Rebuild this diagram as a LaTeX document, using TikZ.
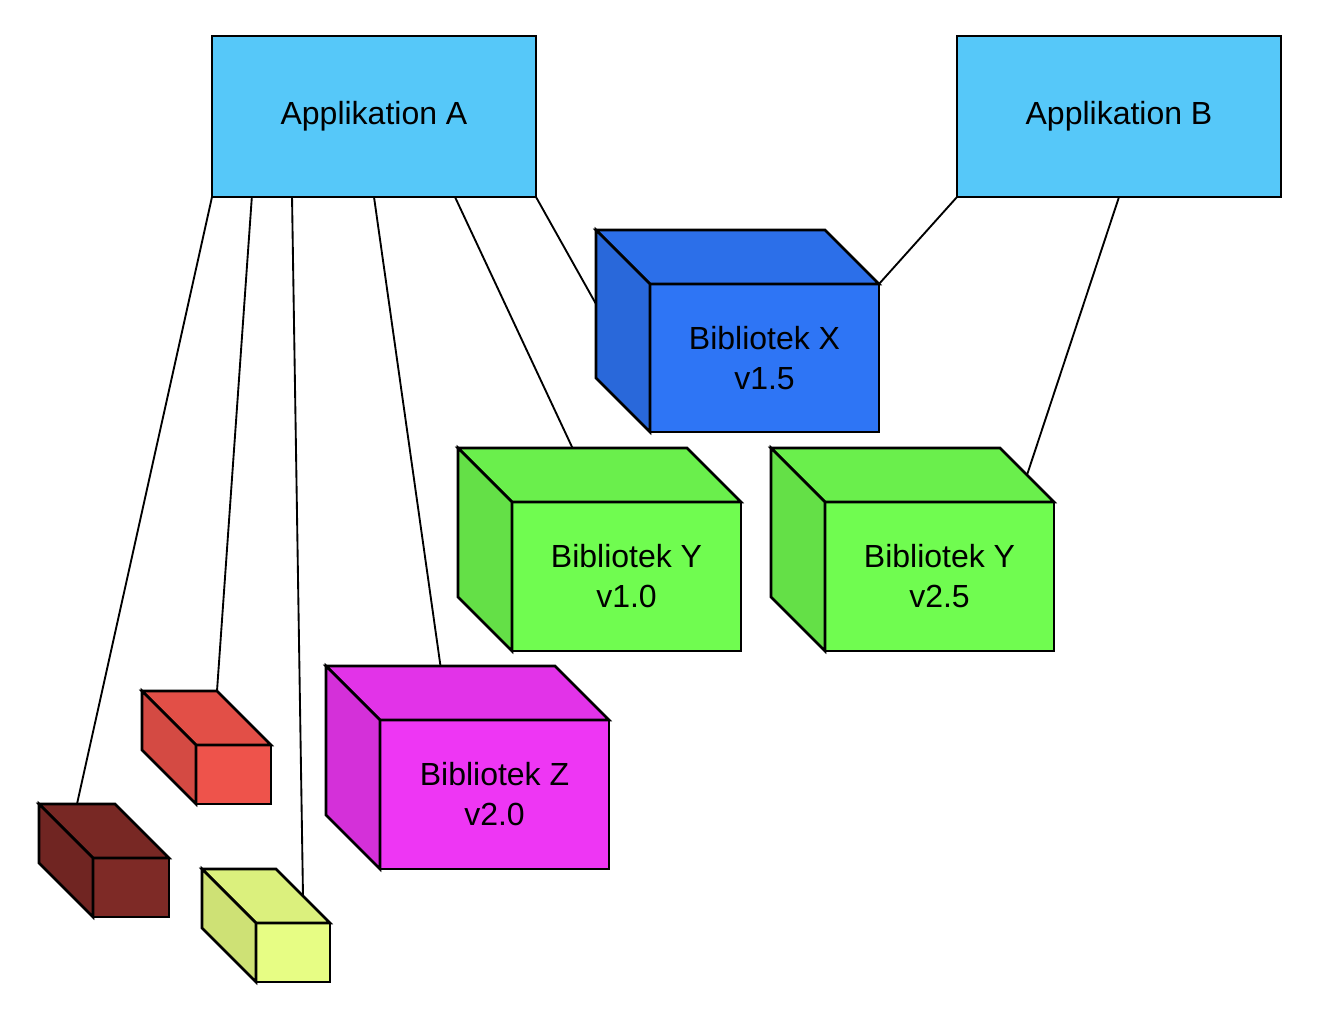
\documentclass[tikz,border=0pt]{standalone}
\usepackage{fontspec}
\setmainfont{Liberation Sans}
\usetikzlibrary{calc}

\definecolor{appblue}{HTML}{56C8F9}
\definecolor{libx}{HTML}{2E75F5}
\definecolor{liby}{HTML}{70FC50}
\definecolor{libz}{HTML}{EE36F4}
\definecolor{libred}{HTML}{EE534B}
\definecolor{libdark}{HTML}{7E2A26}
\definecolor{libyellow}{HTML}{E7FD84}

\tikzset{
  edge/.style={draw=black, line width=1.9pt, line join=miter},
  appbox/.style={edge, fill=appblue, inner sep=0pt, outer sep=0pt,
    font=\fontsize{24}{30}\selectfont},
  cubefront/.style={edge, rectangle, inner sep=0pt, outer sep=0pt, align=center,
    font=\fontsize{24}{30}\selectfont},
  link/.style={draw=black, line width=1.4pt},
}

% A box drawn as a cube: front face is a named node, top and left faces
% recede 54 units up and to the left.
% #1 name, #2 x, #3 y (front top-left), #4 width, #5 height, #6 colour, #7 text
\newcommand{\libcube}[7]{%
  \node[cubefront, fill=#6, minimum width=#4*0.75pt, minimum height=#5*0.75pt,
        anchor=north west] (#1) at (#2,#3) {#7};
  \coordinate (#1-tl) at ($(#1.north west)+(-54,-54)$);
  \coordinate (#1-tr) at ($(#1.north east)+(-54,-54)$);
  \coordinate (#1-bl) at ($(#1.south west)+(-54,-54)$);
  \coordinate (#1-tm) at ($(#1-tl)!0.5!(#1-tr)$);
  \coordinate (#1-lm) at ($(#1-tl)!0.5!(#1-bl)$);
  \coordinate (#1-rm) at ($(#1-tr)!0.5!(#1.north east)$);
  \filldraw[edge, fill=#6!95!black] (#1.north west) -- (#1-tl) -- (#1-tr) -- (#1.north east) -- cycle;
  \filldraw[edge, fill=#6!89!black] (#1.north west) -- (#1-tl) -- (#1-bl) -- (#1.south west) -- cycle;
}

\begin{document}
\begin{tikzpicture}[x=0.75pt, y=-0.75pt]
\useasboundingbox (0,0) rectangle (1322,1016);

% applications
\node[appbox, minimum width=324*0.75pt, minimum height=161*0.75pt, anchor=north west]
  (A) at (212,36) {Applikation A};
\node[appbox, minimum width=324*0.75pt, minimum height=161*0.75pt, anchor=north west]
  (B) at (957,36) {Applikation B};

% points along the bottom edge of Applikation A
\coordinate (a1) at ($(A.south west)!0.123!(A.south east)$);
\coordinate (a2) at ($(A.south west)!0.247!(A.south east)$);
\coordinate (a4) at ($(A.south west)!0.75!(A.south east)$);

% libraries
\libcube{X}{650}{284}{229}{148}{libx}{Bibliotek X\\v1.5}
\libcube{Ya}{512}{502}{229}{149}{liby}{Bibliotek Y\\v1.0}
\libcube{Yb}{825}{502}{229}{149}{liby}{Bibliotek Y\\v2.5}
\libcube{Z}{380}{720}{229}{149}{libz}{Bibliotek Z\\v2.0}
\libcube{R}{196}{745}{75}{59}{libred}{}
\libcube{D}{93}{858}{76}{59}{libdark}{}
\libcube{L}{256}{923}{74}{59}{libyellow}{}

% dependencies
\draw[link] (A.south west) -- (D-tm);
\draw[link] (a1) -- (R-tr);
\draw[link] (a2) -- (L-rm);
\draw[link] (A.south) -- (Z-tm);
\draw[link] (a4) -- (Ya-tm);
\draw[link] (A.south east) -- (X-lm);
\draw[link] (B.south west) -- (X.north east);
\draw[link] (B.south) -- (Yb-rm);
\end{tikzpicture}
\end{document}
